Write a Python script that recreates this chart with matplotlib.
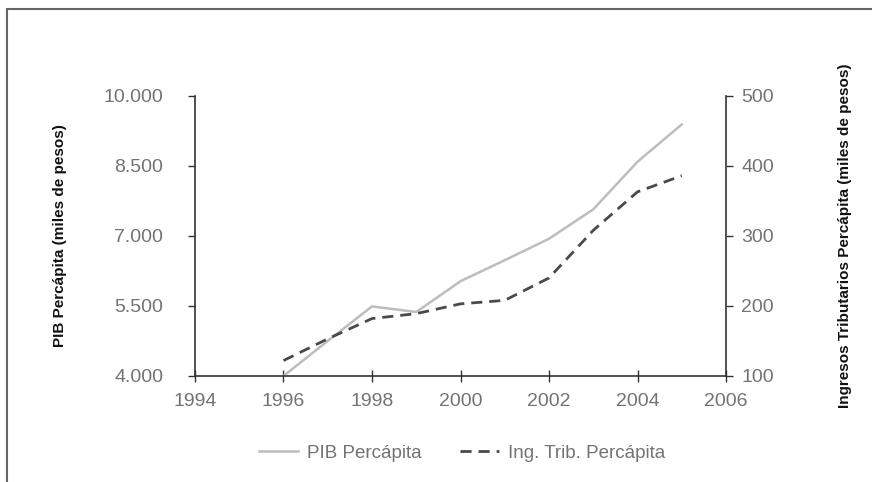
import matplotlib.pyplot as plt
from matplotlib.patches import Rectangle
from matplotlib.ticker import FuncFormatter

anios = [1996, 1997, 1998, 1999, 2000, 2001, 2002, 2003, 2004, 2005]
pib = [4000, 4750, 5490, 5370, 6030, 6480, 6940, 7570, 8590, 9390]
ing_trib = [122, 153, 182, 189, 203, 208, 240, 308, 363, 386]

x_ticks = [1994, 1996, 1998, 2000, 2002, 2004, 2006]
y_ticks_izq = [4000, 5500, 7000, 8500, 10000]
y_ticks_der = [100, 200, 300, 400, 500]

plt.rcParams['font.family'] = ['Liberation Sans', 'DejaVu Sans']
gris_txt = '#737373'
eje = '#333333'

fig = plt.figure(figsize=(8.72, 4.82), dpi=100)
ax = fig.add_axes([0.2236, 0.22, 0.609, 0.581])
ax2 = ax.twinx()

# marco exterior (cortado a la derecha y abajo)
fig.patches.append(Rectangle((7 / 872, -0.05), 1.2, 1 - 9 / 482 + 0.05,
                             transform=fig.transFigure, fill=False,
                             edgecolor='#666666', linewidth=1.5))

l1, = ax.plot(anios, pib, color='#bdbdbd', linewidth=1.8, label='PIB Percápita')
l2, = ax2.plot(anios, ing_trib, color='#4a4a4a', linewidth=2.0,
               linestyle=(0, (4, 2.5)), label='Ing. Trib. Percápita')

ax.set_xlim(1994, 2006)
ax.set_ylim(4000, 10000)
ax2.set_ylim(100, 500)
ax.set_xticks(x_ticks)
ax.set_yticks(y_ticks_izq)
ax2.set_yticks(y_ticks_der)
ax.yaxis.set_major_formatter(FuncFormatter(lambda v, p: f'{int(v):,}'.replace(',', '.')))

for a in (ax, ax2):
    a.spines['top'].set_visible(False)
    for s in a.spines.values():
        s.set_color(eje)
        s.set_linewidth(1.2)
ax.spines['right'].set_visible(False)
ax2.spines['left'].set_visible(False)
ax2.spines['bottom'].set_visible(False)

ax.tick_params(axis='x', direction='inout', length=8, width=1, color=eje,
               labelsize=14, labelcolor=gris_txt, pad=8)
ax.tick_params(axis='y', direction='out', length=5, width=1, color=eje,
               labelsize=14, labelcolor=gris_txt, pad=18)
ax2.tick_params(axis='y', direction='out', length=5, width=1, color=eje,
                labelsize=14, labelcolor=gris_txt, pad=6)

ax.set_ylabel('PIB Percápita (miles de pesos)', fontsize=11, fontweight='bold',
              color='#111111', labelpad=26)
ax2.set_ylabel('Ingresos Tributarios Percápita (miles de pesos)', fontsize=11,
               fontweight='bold', color='#111111', labelpad=46)

fig.legend(handles=[l1, l2], loc='center', bbox_to_anchor=(0.53, 0.06), ncol=2,
           frameon=False, fontsize=13.5, labelcolor=gris_txt, handlelength=2.1,
           columnspacing=2.0, handletextpad=0.5)

fig.savefig('out.png', dpi=100)
